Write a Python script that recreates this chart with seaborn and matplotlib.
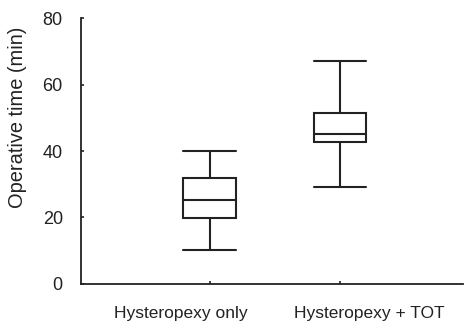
import numpy as np
import pandas as pd
import matplotlib
matplotlib.use("Agg")
import matplotlib.pyplot as plt
import matplotlib.transforms as mtransforms
import seaborn as sns

# five-number summaries (min, Q1, median, Q3, max)
groups = ["Hysteropexy only", "Hysteropexy + TOT"]
hysteropexy_only = [10.2, 19.8, 25.2, 31.8, 40.0]
hysteropexy_tot = [29.2, 42.6, 45.2, 51.4, 67.1]
yticks = [0, 20, 40, 60, 80]

df = pd.DataFrame({
    "group": [groups[0]] * len(hysteropexy_only) + [groups[1]] * len(hysteropexy_tot),
    "time": hysteropexy_only + hysteropexy_tot,
})

sns.set_style("ticks")
plt.rcParams["font.family"] = ["Liberation Sans", "DejaVu Sans"]

fig = plt.figure(figsize=(4.65, 3.23), dpi=100)
ax = fig.add_axes([0.174, 0.121, 0.822, 0.823])

ink = "#222222"
sns.boxplot(data=df, x="group", y="time", ax=ax, whis=np.inf, width=0.4,
            color="white", linecolor=ink, linewidth=1.5, capwidths=0.4,
            showfliers=False)

ax.set_ylim(0, 80)
ax.set_yticks(yticks)
ax.set_xlim(-0.985, 1.94)
ax.set_xlabel("")
ax.set_ylabel("Operative time (min)", fontsize=14.4, color=ink)
ax.yaxis.set_label_coords(-0.142, 0.625)
sns.despine(ax=ax)
for s in ["left", "bottom"]:
    ax.spines[s].set_linewidth(1.3)
    ax.spines[s].set_color(ink)
ax.tick_params(axis="both", direction="in", length=2.5, width=1.2, color=ink)
ax.tick_params(axis="y", labelsize=13, pad=13, labelcolor=ink)
ax.tick_params(axis="x", labelsize=12.5, pad=16, labelcolor=ink)

# the category labels sit spread outwards from their ticks
shifts = [-0.29, 0.29]
for lab, dx in zip(ax.get_xticklabels(), shifts):
    lab.set_transform(lab.get_transform() + mtransforms.ScaledTranslation(dx, 0, fig.dpi_scale_trans))

fig.savefig("out.png", dpi=100)
